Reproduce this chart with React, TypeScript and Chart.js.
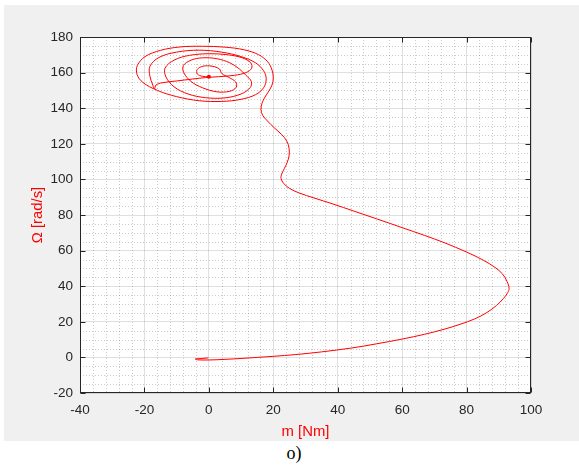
import React, { useEffect, useRef } from "react";
import { Chart, registerables } from "chart.js";

Chart.register(...registerables);

// Axis ranges / ticks
const xTickValues = [-40, -20, 0, 20, 40, 60, 80, 100];
const yTickValues = [-20, 0, 20, 40, 60, 80, 100, 120, 140, 160, 180];
const xMinorStep = 4;
const yMinorStep = 5;

const xLabel = "m [Nm]";
const yLabel = "Ω [rad/s]";
const caption = "o)";

// Trajectory: torque m [Nm]
const mValues = [
  -0.2, -2.2, -4.2, -3.6, 0, 5, 10, 15, 20, 27, 35, 44, 52, 60, 67, 73, 78, 82.5, 86.3, 89.3, 91.5,
  92.8, 93.2, 92.6, 91.2, 88.8, 85.2, 80, 73, 67, 60, 52, 45, 38.5, 32.6, 28, 25, 23.2, 22.4, 22.6,
  23.4, 24.3, 24.9, 24.9, 24.2, 22.6, 20.3, 18.2, 16.7, 16.2, 16.5, 17.4, 18.6, 19.6, 20, 19.6, 18.3,
  15.5, 11, 5, -2, -9, -15, -19.8, -22.2, -22.3, -20.5, -16, -10, -3, 4, 10, 14.5, 17, 17.8, 17,
  14.5, 10, 4, -3, -10, -15.5, -18.3, -18.3, -17.4, -16.9, -16.4, -14.5, -10, -5, -1, 3, 8, 11.5,
  13.3, 13, 10.5, 6, 0, -6, -10.8, -13.6, -13.3, -10.8, -6.5, -1, 5, 10, 12.8, 13.2, 11.5, 9.5, 6.5,
  2.5, -2, -5.5, -7.9, -7.8, -5.5, -2, 2.5, 6.5, 8.5, 8.3, 6.2, 4, 3.3, 1, -1.8, -3.6, -3.6, -2, 0,
];

// Trajectory: speed Ω [rad/s]
const omegaValues = [
  -0.3, -0.6, -0.9, -1.35, -1.45, -1.1, -0.6, 0, 0.6, 1.6, 3.1, 5.2, 7.6, 10.3, 13, 15.8, 18.6,
  21.6, 25.2, 29.2, 33.2, 36.5, 38.8, 42.5, 46.8, 50.6, 54.6, 59.2, 64.5, 68.5, 72.9, 77.9, 82.2,
  86.2, 89.6, 92.4, 95, 97.8, 100.5, 103, 106, 109.5, 113.2, 117.5, 121.5, 125.2, 129, 132.8, 136,
  139.2, 142.8, 146.2, 149.6, 153, 157, 161.5, 166, 170, 172.8, 174.3, 174.8, 174.4, 172.5, 169, 164,
  159, 154.5, 150, 146.5, 144.2, 143.8, 145, 147.6, 151.5, 156.5, 161, 165.5, 169, 171.5, 172.6,
  171.5, 168.5, 163.5, 158, 153, 150.8, 153, 154.3, 155.3, 156.4, 157.2, 157.7, 158.5, 160, 162.5,
  165.5, 168.2, 170, 170.6, 169.7, 167, 162.5, 157.5, 152, 148, 145.9, 145.8, 148, 151.5, 155,
  158.5, 162, 165.5, 167.8, 168.3, 167, 164, 160, 155, 151.5, 149.2, 149.5, 151.8, 154.8, 157.3,
  159.5, 162, 163.6, 163.6, 161.8, 159.3, 157.9, 157.7,
];

// Steady-state point
const endM = [0];
const endOmega = [157.7];

const FONT = "'Liberation Sans', Arial, Helvetica, sans-serif";
const AXIS_COLOR = "#262626";

const matlabPlugin = {
  id: "matlabAxes",
  beforeDraw(chart: any) {
    const { ctx, chartArea: a, scales } = chart;
    const xs = scales.x;
    const ys = scales.y;
    ctx.save();
    ctx.fillStyle = "#ffffff";
    ctx.fillRect(a.left, a.top, a.right - a.left, a.bottom - a.top);
    ctx.strokeStyle = "rgba(38,38,38,0.24)";
    ctx.lineWidth = 1;
    ctx.setLineDash([1, 2]);
    const xMin = xTickValues[0];
    const xMax = xTickValues[xTickValues.length - 1];
    const yMin = yTickValues[0];
    const yMax = yTickValues[yTickValues.length - 1];
    for (let v = xMin; v <= xMax; v += xMinorStep) {
      if (xTickValues.includes(v)) continue;
      const px = Math.round(xs.getPixelForValue(v)) + 0.5;
      ctx.beginPath();
      ctx.moveTo(px, a.top);
      ctx.lineTo(px, a.bottom);
      ctx.stroke();
    }
    for (let v = yMin; v <= yMax; v += yMinorStep) {
      if (yTickValues.includes(v)) continue;
      const py = Math.round(ys.getPixelForValue(v)) + 0.5;
      ctx.beginPath();
      ctx.moveTo(a.left, py);
      ctx.lineTo(a.right, py);
      ctx.stroke();
    }
    ctx.restore();
  },
  afterDraw(chart: any) {
    const { ctx, chartArea: a, scales } = chart;
    const xs = scales.x;
    const ys = scales.y;
    const L = Math.round(a.left) + 0.5;
    const R = Math.round(a.right) - 0.5;
    const T = Math.round(a.top) + 0.5;
    const B = Math.round(a.bottom) - 0.5;
    ctx.save();
    ctx.strokeStyle = AXIS_COLOR;
    ctx.lineWidth = 1;
    ctx.setLineDash([]);
    ctx.strokeRect(L, T, R - L, B - T);
    const tl = 5;
    ctx.beginPath();
    xTickValues.forEach((v) => {
      const px = Math.round(xs.getPixelForValue(v)) + 0.5;
      ctx.moveTo(px, B);
      ctx.lineTo(px, B - tl);
      ctx.moveTo(px, T);
      ctx.lineTo(px, T + tl);
    });
    yTickValues.forEach((v) => {
      const py = Math.round(ys.getPixelForValue(v)) + 0.5;
      ctx.moveTo(L, py);
      ctx.lineTo(L + tl, py);
      ctx.moveTo(R, py);
      ctx.lineTo(R - tl, py);
    });
    ctx.stroke();
    ctx.restore();
  },
};

export default function App() {
  const ref = useRef<HTMLCanvasElement | null>(null);

  useEffect(() => {
    if (!ref.current) return;
    const trajectory = mValues.map((m, i) => ({ x: m, y: omegaValues[i] }));
    const endPoint = endM.map((m, i) => ({ x: m, y: endOmega[i] }));
    const chart = new Chart(ref.current, {
      type: "scatter",
      data: {
        datasets: [
          {
            data: trajectory,
            showLine: true,
            borderColor: "#ff0000",
            borderWidth: 1,
            pointRadius: 0,
            tension: 0.35,
            fill: false,
          },
          {
            data: endPoint,
            showLine: false,
            pointRadius: 2,
            pointBackgroundColor: "#ff0000",
            pointBorderColor: "#ff0000",
            pointBorderWidth: 0,
          },
        ],
      },
      options: {
        animation: false,
        responsive: false,
        devicePixelRatio: 1,
        layout: { padding: { left: 0, right: 48, top: 32, bottom: 0 } },
        plugins: {
          legend: { display: false },
          tooltip: { enabled: false },
        },
        scales: {
          x: {
            type: "linear",
            min: xTickValues[0],
            max: xTickValues[xTickValues.length - 1],
            afterBuildTicks: (s: any) => {
              s.ticks = xTickValues.map((v) => ({ value: v }));
            },
            ticks: {
              color: AXIS_COLOR,
              font: { family: FONT, size: 13.5 },
              padding: 9,
              maxRotation: 0,
              autoSkip: false,
            },
            grid: { color: "rgba(38,38,38,0.15)", drawTicks: false },
            border: { display: false },
            title: {
              display: true,
              text: xLabel,
              color: "#ff0000",
              font: { family: FONT, size: 14.85 },
              padding: { top: 0, bottom: 0 },
            },
            afterFit: (s: any) => {
              s.height = 48;
            },
          },
          y: {
            type: "linear",
            min: yTickValues[0],
            max: yTickValues[yTickValues.length - 1],
            afterBuildTicks: (s: any) => {
              s.ticks = yTickValues.map((v) => ({ value: v }));
            },
            ticks: {
              color: AXIS_COLOR,
              font: { family: FONT, size: 13.5 },
              padding: 7,
              autoSkip: false,
            },
            grid: { color: "rgba(38,38,38,0.15)", drawTicks: false },
            border: { display: false },
            title: {
              display: true,
              text: yLabel,
              color: "#ff0000",
              font: { family: FONT, size: 14.85 },
              padding: { top: 25, bottom: 0 },
            },
            afterFit: (s: any) => {
              s.width = 76;
            },
          },
        },
      },
      plugins: [matlabPlugin],
    });
    return () => chart.destroy();
  }, []);

  return (
    <div
      style={{
        position: "absolute",
        left: 0,
        top: 0,
        width: 579,
        height: 466,
        background: "#ffffff",
        overflow: "hidden",
      }}
    >
      <div
        style={{
          position: "absolute",
          left: 4,
          top: 5,
          width: 575,
          height: 436,
          background: "#f0f0f0",
        }}
      >
        <canvas
          ref={ref}
          width={575}
          height={436}
          style={{ display: "block", width: 575, height: 436 }}
        />
      </div>
      <div
        style={{
          position: "absolute",
          left: 244,
          top: 443,
          width: 100,
          textAlign: "center",
          fontFamily: "'Liberation Serif', 'Times New Roman', serif",
          fontSize: 18,
          lineHeight: "20px",
          color: "#000",
        }}
      >
        {caption}
      </div>
    </div>
  );
}
